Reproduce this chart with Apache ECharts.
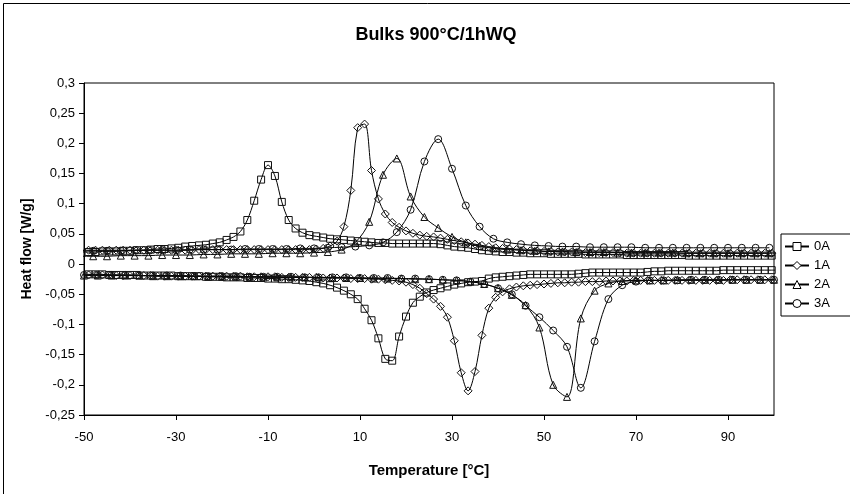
<!DOCTYPE html>
<html>
<head>
<meta charset="utf-8">
<script src="https://cdn.jsdelivr.net/npm/echarts@6.0.0/dist/echarts.min.js"></script>
<style>
html,body{margin:0;padding:0;background:#fff;}
#chart{width:850px;height:494px;}
</style>
</head>
<body>
<div id="chart"></div>
<script>
// Temperatures (°C) of the points, dense series (0A, 1A); first point lies just left of the axis (clipped)
const tempsFine = [
  -50.5, -49, -47.5, -46, -44.5, -43, -41.5, -40, -38.5, -37,
  -35.5, -34, -32.5, -31, -29.5, -28, -26.5, -25, -23.5, -22,
  -20.5, -19, -17.5, -16, -14.5, -13, -11.5, -10, -8.5, -7,
  -5.5, -4, -2.5, -1, 0.5, 2, 3.5, 5, 6.5, 8,
  9.5, 11, 12.5, 14, 15.5, 17, 18.5, 20, 21.5, 23,
  24.5, 26, 27.5, 29, 30.5, 32, 33.5, 35, 36.5, 38,
  39.5, 41, 42.5, 44, 45.5, 47, 48.5, 50, 51.5, 53,
  54.5, 56, 57.5, 59, 60.5, 62, 63.5, 65, 66.5, 68,
  69.5, 71, 72.5, 74, 75.5, 77, 78.5, 80, 81.5, 83,
  84.5, 86, 87.5, 89, 90.5, 92, 93.5, 95, 96.5, 98,
  99.5, 101
];
// Temperatures of the sparser series (2A, 3A), upper and lower branches
const tempsCoarseUp = [
  -51, -48, -45, -42, -39, -36, -33, -30, -27, -24,
  -21, -18, -15, -12, -9, -6, -3, 0, 3, 6,
  9, 12, 15, 18, 21, 24, 27, 30, 33, 36,
  39, 42, 45, 48, 51, 54, 57, 60, 63, 66,
  69, 72, 75, 78, 81, 84, 87, 90, 93, 96,
  99
];
const tempsCoarseDown = [
  -50, -47, -44, -41, -38, -35, -32, -29, -26, -23,
  -20, -17, -14, -11, -8, -5, -2, 1, 4, 7,
  10, 13, 16, 19, 22, 25, 28, 31, 34, 37,
  40, 43, 46, 49, 52, 55, 58, 61, 64, 67,
  70, 73, 76, 79, 82, 85, 88, 91, 94, 97,
  100
];

// Heat flow [W/g]
const flow0A_up = [
  0.020, 0.020, 0.020, 0.021, 0.021, 0.021, 0.022, 0.022, 0.023, 0.023,
  0.024, 0.025, 0.025, 0.026, 0.027, 0.029, 0.030, 0.031, 0.032, 0.034,
  0.036, 0.040, 0.045, 0.054, 0.073, 0.105, 0.140, 0.164, 0.146, 0.103,
  0.073, 0.059, 0.052, 0.048, 0.046, 0.044, 0.042, 0.041, 0.040, 0.039,
  0.038, 0.037, 0.036, 0.035, 0.035, 0.034, 0.034, 0.034, 0.034, 0.034,
  0.034, 0.034, 0.033, 0.031, 0.029, 0.028, 0.027, 0.025, 0.023, 0.022,
  0.021, 0.020, 0.020, 0.019, 0.019, 0.018, 0.018, 0.018, 0.017, 0.017,
  0.017, 0.017, 0.017, 0.016, 0.016, 0.016, 0.016, 0.016, 0.016, 0.015,
  0.015, 0.015, 0.015, 0.015, 0.015, 0.015, 0.015, 0.015, 0.014, 0.014,
  0.014, 0.014, 0.014, 0.014, 0.014, 0.014, 0.014, 0.014, 0.014, 0.014,
  0.014, 0.014
];
const flow0A_down = [
  -0.017, -0.017, -0.017, -0.017, -0.018, -0.018, -0.018, -0.018, -0.018, -0.019,
  -0.019, -0.019, -0.019, -0.019, -0.020, -0.020, -0.020, -0.020, -0.021, -0.021,
  -0.021, -0.022, -0.022, -0.022, -0.023, -0.023, -0.023, -0.024, -0.024, -0.025,
  -0.025, -0.026, -0.027, -0.028, -0.030, -0.032, -0.035, -0.039, -0.044, -0.050,
  -0.058, -0.074, -0.093, -0.123, -0.157, -0.160, -0.120, -0.087, -0.064, -0.054,
  -0.047, -0.043, -0.040, -0.037, -0.034, -0.032, -0.030, -0.029, -0.028, -0.024,
  -0.022, -0.021, -0.020, -0.019, -0.018, -0.017, -0.017, -0.017, -0.017, -0.017,
  -0.017, -0.017, -0.016, -0.015, -0.014, -0.014, -0.014, -0.014, -0.014, -0.014,
  -0.014, -0.014, -0.013, -0.012, -0.012, -0.011, -0.011, -0.011, -0.011, -0.011,
  -0.011, -0.011, -0.011, -0.010, -0.010, -0.010, -0.010, -0.010, -0.010, -0.010,
  -0.010, -0.010
];
const flow1A_up = [
  0.023, 0.023, 0.023, 0.023, 0.023, 0.023, 0.023, 0.023, 0.023, 0.023,
  0.023, 0.023, 0.023, 0.023, 0.023, 0.023, 0.023, 0.024, 0.024, 0.024,
  0.024, 0.024, 0.024, 0.024, 0.024, 0.024, 0.024, 0.024, 0.024, 0.024,
  0.024, 0.024, 0.024, 0.024, 0.025, 0.026, 0.030, 0.038, 0.062, 0.122,
  0.226, 0.232, 0.155, 0.108, 0.083, 0.069, 0.061, 0.055, 0.051, 0.048,
  0.046, 0.045, 0.043, 0.041, 0.039, 0.037, 0.035, 0.033, 0.031, 0.029,
  0.027, 0.026, 0.025, 0.024, 0.023, 0.022, 0.022, 0.021, 0.021, 0.020,
  0.020, 0.020, 0.020, 0.019, 0.019, 0.019, 0.019, 0.019, 0.019, 0.018,
  0.018, 0.018, 0.018, 0.018, 0.018, 0.018, 0.018, 0.018, 0.018, 0.018,
  0.018, 0.018, 0.018, 0.018, 0.018, 0.018, 0.018, 0.018, 0.018, 0.018,
  0.018, 0.018
];
const flow1A_down = [
  -0.018, -0.018, -0.018, -0.018, -0.018, -0.019, -0.019, -0.019, -0.019, -0.019,
  -0.019, -0.020, -0.020, -0.020, -0.020, -0.020, -0.020, -0.020, -0.020, -0.020,
  -0.020, -0.020, -0.020, -0.020, -0.021, -0.021, -0.021, -0.021, -0.021, -0.022,
  -0.022, -0.022, -0.022, -0.022, -0.022, -0.023, -0.023, -0.023, -0.023, -0.024,
  -0.024, -0.024, -0.025, -0.025, -0.026, -0.027, -0.028, -0.030, -0.034, -0.040,
  -0.049, -0.058, -0.070, -0.088, -0.127, -0.180, -0.210, -0.178, -0.118, -0.073,
  -0.055, -0.046, -0.041, -0.038, -0.036, -0.035, -0.034, -0.033, -0.032, -0.031,
  -0.031, -0.030, -0.030, -0.029, -0.029, -0.029, -0.028, -0.028, -0.028, -0.028,
  -0.027, -0.027, -0.027, -0.027, -0.027, -0.027, -0.027, -0.027, -0.027, -0.027,
  -0.027, -0.027, -0.027, -0.027, -0.026, -0.026, -0.026, -0.026, -0.026, -0.026,
  -0.026, -0.026
];
const flow2A_up = [
  0.013, 0.013, 0.013, 0.014, 0.014, 0.014, 0.015, 0.015, 0.015, 0.016,
  0.016, 0.017, 0.017, 0.017, 0.018, 0.018, 0.018, 0.019, 0.020, 0.024,
  0.036, 0.070, 0.148, 0.175, 0.112, 0.078, 0.060, 0.045, 0.036, 0.030,
  0.026, 0.024, 0.023, 0.022, 0.021, 0.021, 0.020, 0.020, 0.020, 0.019,
  0.019, 0.019, 0.019, 0.019, 0.018, 0.018, 0.018, 0.018, 0.018, 0.018,
  0.018
];
const flow2A_down = [
  -0.019, -0.019, -0.019, -0.019, -0.019, -0.020, -0.020, -0.020, -0.020, -0.021,
  -0.021, -0.021, -0.021, -0.022, -0.022, -0.022, -0.022, -0.022, -0.023, -0.023,
  -0.023, -0.024, -0.024, -0.024, -0.025, -0.025, -0.026, -0.027, -0.029, -0.033,
  -0.040, -0.051, -0.068, -0.105, -0.200, -0.220, -0.090, -0.044, -0.032, -0.028,
  -0.027, -0.027, -0.027, -0.026, -0.026, -0.026, -0.026, -0.026, -0.026, -0.026,
  -0.026
];
const flow3A_up = [
  0.022, 0.022, 0.022, 0.022, 0.023, 0.023, 0.023, 0.023, 0.024, 0.024,
  0.024, 0.024, 0.025, 0.025, 0.025, 0.025, 0.026, 0.026, 0.027, 0.028,
  0.029, 0.031, 0.036, 0.053, 0.090, 0.170, 0.207, 0.158, 0.097, 0.062,
  0.042, 0.036, 0.033, 0.031, 0.030, 0.029, 0.029, 0.028, 0.028, 0.028,
  0.028, 0.027, 0.027, 0.027, 0.027, 0.027, 0.027, 0.027, 0.027, 0.027,
  0.027
];
const flow3A_down = [
  -0.018, -0.018, -0.018, -0.018, -0.019, -0.019, -0.019, -0.019, -0.020, -0.020,
  -0.020, -0.020, -0.021, -0.021, -0.021, -0.021, -0.022, -0.022, -0.022, -0.022,
  -0.023, -0.023, -0.023, -0.024, -0.024, -0.025, -0.026, -0.027, -0.029, -0.033,
  -0.040, -0.050, -0.069, -0.088, -0.110, -0.137, -0.205, -0.128, -0.058, -0.035,
  -0.029, -0.027, -0.027, -0.027, -0.026, -0.026, -0.026, -0.026, -0.026, -0.026,
  -0.026
];

const seriesNames = ['0A', '1A', '2A', '3A'];
const xTicks = [-50, -30, -10, 10, 30, 50, 70, 90];

const FONT = 'Liberation Sans, Arial, sans-serif';

function zip(xs, ys) {
  const out = [];
  for (let i = 0; i < Math.min(xs.length, ys.length); i++) out.push([xs[i], ys[i]]);
  return out;
}

const defs = [
  {name: '0A', symbol: 'rect', size: 7, branches: [[tempsFine, flow0A_up], [tempsFine, flow0A_down]]},
  {name: '1A', symbol: 'diamond', size: 8, branches: [[tempsFine, flow1A_up], [tempsFine, flow1A_down]]},
  {name: '2A', symbol: 'triangle', size: 7, branches: [[tempsCoarseUp, flow2A_up], [tempsCoarseDown, flow2A_down]]},
  {name: '3A', symbol: 'circle', size: 7, branches: [[tempsCoarseUp, flow3A_up], [tempsCoarseDown, flow3A_down]]}
];

const series = [];
defs.forEach(d => {
  d.branches.forEach(b => {
    series.push({
      name: d.name,
      type: 'line',
      data: zip(b[0], b[1]),
      smooth: 0.35,
      symbol: d.symbol,
      symbolSize: d.size,
      showAllSymbol: true,
      clip: true,
      lineStyle: {color: '#000', width: 1},
      itemStyle: {color: 'rgba(255,255,255,0)', borderColor: '#111', borderWidth: 1},
      emphasis: {disabled: true}
    });
  });
});

const chart = echarts.init(document.getElementById('chart'), null, {renderer: 'canvas'});
chart.setOption({
  animation: false,
  backgroundColor: '#fff',
  title: {
    text: 'Bulks 900°C/1hWQ',
    left: 431,
    textAlign: 'center',
    top: 21,
    textStyle: {fontFamily: FONT, fontSize: 18, fontWeight: 'bold', color: '#000'}
  },
  graphic: [{
    type: 'rect',
    shape: {x: 3.5, y: 3.5, width: 900, height: 600},
    style: {fill: 'none', stroke: '#000', lineWidth: 1},
    silent: true
  }],
  legend: {
    data: seriesNames,
    orient: 'vertical',
    left: 781,
    top: 234,
    itemWidth: 24,
    itemHeight: 10,
    itemGap: 6,
    padding: [6, 30, 6, 3],
    borderColor: '#000',
    borderWidth: 1,
    backgroundColor: '#fff',
    itemStyle: {color: '#fff', borderColor: '#000', borderWidth: 1},
    textStyle: {fontFamily: FONT, fontSize: 13, color: '#000'},
    selectedMode: false
  },
  grid: {
    left: 84, right: 76, top: 83, bottom: 79,
    show: true, borderColor: '#000', borderWidth: 1, backgroundColor: '#fff',
    containLabel: false
  },
  xAxis: {
    type: 'value',
    min: -50, max: 100, interval: 20,
    name: 'Temperature [°C]',
    nameLocation: 'middle',
    nameGap: 48,
    nameTextStyle: {fontFamily: FONT, fontSize: 15, fontWeight: 'bold', color: '#000'},
    axisLine: {show: true, onZero: false, lineStyle: {color: '#000', width: 1}},
    axisTick: {show: true, inside: false, length: 5, lineStyle: {color: '#000'}},
    axisLabel: {
      fontFamily: FONT, fontSize: 13, color: '#000', margin: 16,
      showMaxLabel: false,
      formatter: v => (xTicks.indexOf(v) >= 0 ? String(v) : '')
    },
    splitLine: {show: false}
  },
  yAxis: {
    type: 'value',
    min: -0.25, max: 0.3, interval: 0.05,
    name: 'Heat flow [W/g]',
    nameLocation: 'middle',
    nameGap: 45,
    nameRotate: 90,
    nameTextStyle: {fontFamily: FONT, fontSize: 14, fontWeight: 'bold', color: '#000'},
    axisLine: {show: true, onZero: false, lineStyle: {color: '#000', width: 1}},
    axisTick: {show: true, inside: false, length: 5, lineStyle: {color: '#000'}},
    axisLabel: {
      fontFamily: FONT, fontSize: 13, color: '#000', margin: 9,
      formatter: v => String(Math.round(v * 100) / 100).replace('.', ',')
    },
    splitLine: {show: false}
  },
  series: series
});
</script>
</body>
</html>
